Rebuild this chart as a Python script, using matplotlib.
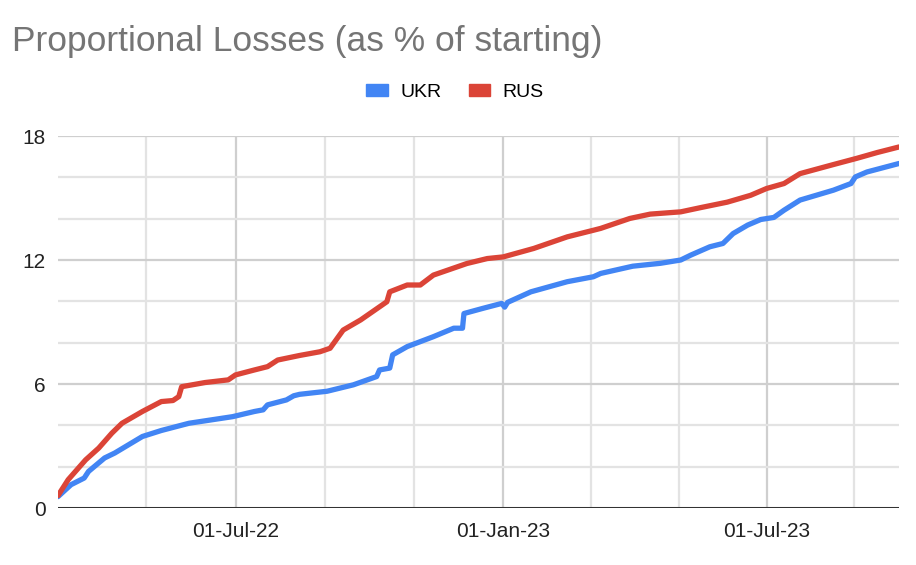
import numpy as np
import matplotlib.pyplot as plt
import matplotlib.dates as mdates
from matplotlib.patches import Patch

plt.rcParams['font.family'] = ['Liberation Sans', 'DejaVu Sans']

# values, x as days after the first date
start = np.datetime64('2022-03-01')

ukr_days = [0, 9, 18, 21, 32, 39, 58, 71, 90, 120, 135, 141, 144, 157, 162, 166,
            185, 203, 219, 221, 228, 230, 240, 258, 272, 278, 279, 292, 305, 307,
            309, 325, 350, 368, 373, 395, 414, 428, 435, 448, 457, 464, 474, 483,
            492, 499, 510, 533, 545, 548, 556, 578]
ukr_vals = [0.55, 1.13, 1.45, 1.77, 2.42, 2.66, 3.46, 3.75, 4.1, 4.42, 4.67, 4.75,
            4.99, 5.23, 5.43, 5.5, 5.65, 5.96, 6.36, 6.68, 6.77, 7.41, 7.81, 8.29,
            8.7, 8.7, 9.41, 9.66, 9.9, 9.72, 9.95, 10.46, 10.95, 11.19, 11.35, 11.7,
            11.84, 12.0, 12.24, 12.64, 12.8, 13.28, 13.69, 13.96, 14.06, 14.41,
            14.9, 15.38, 15.7, 16.02, 16.26, 16.67]

rus_days = [0, 7, 19, 28, 37, 44, 58, 71, 79, 83, 85, 101, 117, 122, 135, 144,
            151, 166, 180, 187, 196, 208, 226, 228, 240, 249, 258, 281, 295, 306,
            327, 350, 368, 373, 393, 407, 428, 442, 460, 476, 487, 499, 510, 533,
            549, 563, 578]
rus_vals = [0.6, 1.37, 2.33, 2.9, 3.62, 4.1, 4.67, 5.15, 5.2, 5.39, 5.87, 6.07,
            6.2, 6.44, 6.68, 6.84, 7.16, 7.38, 7.56, 7.73, 8.61, 9.1, 9.98, 10.46,
            10.79, 10.79, 11.27, 11.83, 12.07, 12.15, 12.56, 13.12, 13.44, 13.53,
            14.01, 14.22, 14.33, 14.54, 14.8, 15.13, 15.46, 15.7, 16.18, 16.62,
            16.92, 17.2, 17.47]

tick_dates = ['2022-07-01', '2023-01-01', '2023-07-01']
tick_labels = ['01-Jul-22', '01-Jan-23', '01-Jul-23']
y_ticks = [0, 6, 12, 18]

BLUE = '#4285f4'
RED = '#db4437'

ukr_x = start + np.array(ukr_days).astype('timedelta64[D]')
rus_x = start + np.array(rus_days).astype('timedelta64[D]')

fig = plt.figure(figsize=(9.16, 5.65), dpi=100)
ax = fig.add_axes([58 / 916, 1 - 508 / 565, (899 - 58) / 916, (508 - 136) / 565])

# grid: majors every 6, minors every 2; vertical minors at thirds between majors
major_x = mdates.date2num(np.array(tick_dates, dtype='datetime64[D]'))
step0 = (major_x[1] - major_x[0]) / 3
step1 = (major_x[2] - major_x[1]) / 3
minor_x = [major_x[0] - step0, major_x[0] + step0, major_x[0] + 2 * step0,
           major_x[1] + step1, major_x[1] + 2 * step1, major_x[2] + step1]
for v in minor_x:
    ax.axvline(v, color='#e3e3e3', lw=1.6, zorder=0)
for v in major_x:
    ax.axvline(v, color='#cfcfcf', lw=1.6, zorder=0)
for h in [2, 4, 8, 10, 14, 16]:
    ax.axhline(h, color='#e3e3e3', lw=1.6, zorder=0)
for h in [6, 12, 18]:
    ax.axhline(h, color='#cfcfcf', lw=1.6, zorder=0)
ax.axhline(0, color='#333333', lw=2.2, zorder=1)

ax.plot(ukr_x, ukr_vals, color=BLUE, lw=3.8, solid_joinstyle='round',
        solid_capstyle='round', zorder=3)
ax.plot(rus_x, rus_vals, color=RED, lw=3.8, solid_joinstyle='round',
        solid_capstyle='round', zorder=3)

ax.set_xlim(mdates.date2num(start), mdates.date2num(start + np.timedelta64(578, 'D')))
ax.set_ylim(0, 18)
ax.set_xticks(major_x)
ax.set_xticklabels(tick_labels)
ax.set_yticks(y_ticks)
ax.tick_params(axis='both', length=0, labelsize=15, colors='#222222')
ax.tick_params(axis='x', pad=10)
ax.tick_params(axis='y', pad=9)
for s in ax.spines.values():
    s.set_visible(False)

fig.text(12 / 916, 1 - 51 / 565, 'Proportional Losses (as % of starting)',
         fontsize=25.5, color='#757575', ha='left', va='baseline')

handles = [Patch(color=BLUE, label='UKR'), Patch(color=RED, label='RUS')]
fig.legend(handles=handles, loc='center', bbox_to_anchor=(455 / 916, 1 - 92.5 / 565),
           ncol=2, frameon=False, fontsize=14, handlelength=1.1, handleheight=0.6,
           handletextpad=0.65, columnspacing=1.4, borderpad=0)

fig.savefig('out.png', dpi=100)
